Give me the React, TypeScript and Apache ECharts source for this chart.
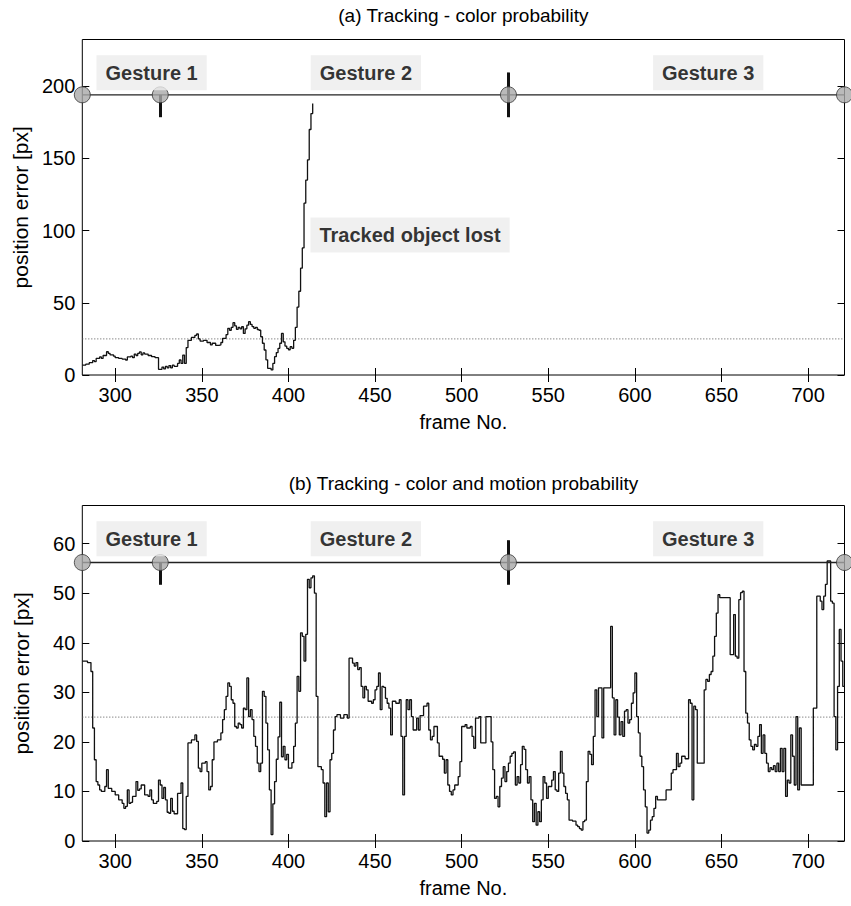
import React, { useEffect, useRef } from "react";
import * as echarts from "echarts";

// ---- axes / ticks ----
const xTicks = [300, 350, 400, 450, 500, 550, 600, 650, 700];
const yTicksA = [0, 50, 100, 150, 200];
const yTicksB = [0, 10, 20, 30, 40, 50, 60];
const frameMin = 281;
const frameMax = 721;
const yMaxA = 232.3;
const yMaxB = 67.7;

// ---- gestures ----
const gestureNames = ["Gesture 1", "Gesture 2", "Gesture 3"];
const gestureBounds = [281, 326, 527, 721];
const gestureLevelA = 194;
const gestureLevelB = 56.2;
const threshold = 25;

// ---- (a) colour probability: [frame, error px] (stairs) ----
const errA: [number, number][] = [
  [281, 6.9], [283, 7.5], [285, 8.5], [287, 10.0], [288, 9.3], [289, 11.5], [291, 12.5],
  [292, 11.5], [293, 13.5], [295, 16.1], [296, 15.0], [297, 14.0], [299, 13.0], [300, 12.0],
  [302, 11.5], [304, 11.0], [306, 10.4], [307, 12.5], [309, 13.0], [310, 12.0], [311, 14.5],
  [312, 13.5], [313, 15.0], [314, 16.0], [315, 14.0], [316, 15.3], [317, 14.5], [319, 13.5],
  [321, 12.7], [323, 12.0], [325, 3.9], [327, 5.5], [328, 4.2], [329, 6.0], [330, 5.0],
  [331, 6.5], [332, 5.0], [333, 6.8], [334, 6.0], [336, 8.0], [337, 10.4], [338, 8.0],
  [339, 13.8], [340, 8.0], [341, 19.0], [342, 24.0], [344, 26.0], [346, 27.5], [347, 28.4],
  [348, 25.0], [349, 23.5], [351, 24.0], [353, 22.5], [355, 20.8], [356, 22.0], [358, 20.5],
  [360, 20.8], [361, 22.5], [362, 25.4], [364, 28.0], [365, 32.3], [366, 31.0], [367, 33.0],
  [368, 36.2], [369, 34.0], [370, 31.6], [371, 33.0], [372, 32.0], [373, 33.4], [374, 28.8],
  [375, 32.0], [376, 34.5], [377, 36.9], [378, 35.0], [379, 33.5], [380, 32.3], [381, 33.0],
  [382, 31.5], [383, 31.0], [384, 26.5], [385, 22.0], [386, 17.3], [387, 10.5], [388, 4.6],
  [390, 3.5], [391, 8.0], [392, 12.7], [393, 15.5], [394, 18.5], [395, 22.0], [396, 28.8],
  [397, 23.0], [398, 20.0], [399, 18.5], [400, 17.5], [401, 19.6], [402, 18.5], [403, 24.0],
  [404, 33.0], [405, 47.0], [406, 58.0], [407, 74.0], [408, 88.0], [409, 119.0], [410, 135.0],
  [411, 149.0], [412, 170.0], [413, 181.0], [414, 188.0],
];

// ---- (b) colour and motion probability: [frame, error px] (stairs) ----
const errB: [number, number][] = [
  [281, 36.3], [284, 36.0], [286, 34.2], [287, 22.8], [288, 16.4], [289, 12.0], [290, 11.3],
  [291, 10.3], [292, 10.0], [294, 11.0], [295, 14.4], [296, 10.6], [298, 10.0], [300, 9.3],
  [302, 8.3], [304, 7.6], [305, 6.6], [306, 7.0], [307, 10.3], [308, 7.6], [309, 7.8],
  [310, 9.0], [312, 12.0], [313, 10.2], [314, 10.5], [315, 11.3], [317, 9.3], [319, 9.0],
  [320, 10.3], [321, 8.3], [322, 7.6], [324, 8.0], [325, 12.3], [326, 11.3], [327, 8.6],
  [328, 10.8], [329, 8.3], [330, 5.8], [331, 5.6], [332, 8.6], [333, 6.0], [334, 5.5],
  [336, 9.6], [338, 11.7], [339, 2.5], [340, 2.3], [341, 9.0], [342, 19.8], [344, 20.4],
  [346, 21.4], [347, 20.1], [348, 14.7], [349, 14.0], [350, 15.7], [352, 16.0], [353, 14.0],
  [354, 10.3], [355, 11.0], [356, 16.4], [357, 20.0], [359, 20.4], [361, 21.8], [362, 24.5],
  [363, 26.5], [364, 29.2], [365, 31.9], [366, 31.2], [367, 28.5], [368, 27.8], [369, 23.1],
  [370, 22.8], [371, 23.8], [372, 23.5], [373, 22.8], [374, 26.8], [375, 26.5], [376, 32.9],
  [377, 25.1], [378, 26.5], [379, 24.5], [380, 21.1], [381, 19.1], [382, 15.7], [383, 14.0],
  [384, 15.7], [385, 30.2], [386, 29.2], [387, 23.8], [388, 18.4], [389, 10.3], [390, 1.3],
  [391, 7.5], [392, 12.0], [393, 16.5], [394, 21.0], [395, 28.0], [396, 17.0], [397, 19.1],
  [398, 16.4], [399, 17.5], [400, 14.7], [402, 15.8], [403, 19.1], [404, 23.8], [405, 33.2],
  [406, 30.2], [407, 42.0], [408, 41.3], [409, 36.3], [410, 41.7], [411, 52.8], [412, 51.1],
  [413, 53.1], [414, 53.5], [415, 50.0], [416, 29.2], [417, 15.0], [419, 14.4], [420, 11.7],
  [421, 4.9], [422, 11.7], [423, 5.9], [424, 16.4], [425, 17.7], [426, 22.4], [427, 25.1],
  [428, 25.5], [430, 24.8], [432, 25.5], [434, 24.8], [435, 36.9], [437, 35.9], [438, 35.3],
  [439, 36.0], [440, 34.6], [441, 35.0], [442, 31.2], [443, 28.9], [444, 31.2], [445, 30.5],
  [446, 28.2], [448, 27.8], [449, 28.5], [450, 30.5], [451, 31.2], [452, 33.9], [453, 26.5],
  [454, 31.2], [455, 31.0], [456, 28.8], [457, 27.8], [458, 26.8], [459, 21.4], [460, 28.2],
  [462, 27.8], [464, 28.5], [465, 21.1], [466, 9.3], [467, 21.1], [468, 28.5], [469, 26.5],
  [470, 28.5], [471, 25.1], [472, 22.4], [474, 24.8], [475, 22.4], [476, 25.3], [478, 27.2],
  [480, 27.8], [481, 22.4], [482, 20.4], [483, 21.1], [484, 23.1], [486, 19.8], [487, 17.1],
  [489, 16.5], [490, 13.7], [491, 16.4], [492, 11.3], [493, 10.0], [494, 9.3], [495, 10.3],
  [496, 11.3], [498, 13.0], [499, 16.0], [500, 23.1], [502, 23.5], [503, 22.8], [505, 23.1],
  [506, 21.1], [507, 18.7], [508, 24.8], [510, 25.1], [511, 19.8], [514, 25.1], [517, 20.0],
  [518, 14.4], [519, 8.6], [520, 9.0], [521, 6.9], [522, 11.0], [523, 12.7], [524, 15.0],
  [525, 12.0], [526, 14.0], [527, 15.7], [528, 17.1], [529, 17.7], [530, 18.0], [531, 11.3],
  [532, 13.0], [533, 11.7], [534, 15.4], [535, 19.1], [536, 18.5], [537, 14.4], [538, 11.7],
  [539, 13.0], [540, 8.3], [541, 3.9], [542, 7.6], [543, 3.2], [544, 5.9], [545, 3.9],
  [546, 8.3], [547, 13.0], [548, 11.7], [549, 8.6], [550, 11.0], [552, 12.3], [553, 14.0],
  [554, 10.3], [555, 10.0], [556, 13.7], [557, 18.1], [558, 13.7], [559, 11.0], [560, 9.6],
  [561, 8.3], [562, 4.2], [564, 4.0], [566, 3.2], [567, 2.9], [568, 2.5], [569, 2.2],
  [570, 3.9], [571, 4.2], [572, 12.0], [573, 18.1], [574, 17.5], [575, 15.4], [576, 21.1],
  [577, 30.5], [578, 25.1], [579, 30.9], [581, 20.8], [582, 30.9], [586, 43.3], [587, 28.9],
  [588, 21.4], [589, 28.5], [590, 25.0], [591, 21.4], [592, 24.1], [593, 21.1], [594, 26.2],
  [595, 26.5], [596, 23.8], [597, 24.5], [598, 27.8], [599, 29.9], [600, 33.9], [601, 25.1],
  [602, 21.8], [603, 17.1], [604, 15.0], [605, 10.3], [606, 6.9], [607, 1.6], [608, 2.2],
  [609, 4.2], [610, 4.9], [611, 6.6], [612, 9.0], [613, 8.3], [618, 10.3], [621, 13.7],
  [622, 14.4], [624, 17.7], [625, 15.0], [626, 15.7], [627, 17.1], [629, 16.6], [631, 28.5],
  [632, 27.8], [633, 8.3], [634, 27.2], [635, 26.5], [636, 15.7], [640, 30.5], [641, 32.6],
  [642, 32.2], [643, 33.6], [644, 34.2], [645, 37.3], [646, 41.3], [647, 46.0], [648, 49.7],
  [649, 49.1], [655, 37.6], [657, 45.7], [658, 37.3], [659, 36.9], [660, 48.7], [661, 50.1],
  [662, 50.4], [663, 34.2], [664, 25.8], [665, 23.8], [666, 20.4], [667, 19.1], [668, 18.4],
  [669, 19.5], [670, 19.1], [671, 21.1], [672, 23.5], [673, 17.7], [674, 21.4], [675, 17.7],
  [676, 15.7], [677, 14.0], [678, 14.8], [679, 14.4], [680, 15.2], [681, 14.0], [682, 15.7],
  [683, 14.0], [684, 18.7], [685, 14.0], [686, 18.7], [687, 9.0], [688, 12.3], [689, 11.7],
  [690, 21.4], [691, 17.1], [692, 11.3], [693, 25.1], [694, 10.3], [695, 22.8], [696, 11.3],
  [703, 26.8], [705, 49.4], [707, 48.4], [708, 46.7], [709, 49.4], [710, 51.8], [711, 56.5],
  [713, 48.4], [714, 48.0], [715, 25.1], [716, 18.4], [717, 31.2], [718, 42.7], [719, 36.3],
  [720, 31.2], [721, 31.2],
];

// ---- annotation anchors (data coordinates) ----
const gestureLabelFrames = [321, 444.7, 642.3];
const gestureLabelLevelA = 209.3;
const gestureLabelLevelB = 61.0;
const lostLabel = { text: "Tracked object lost", frame: 470.2, value: 96.9 };

const FONT = "'Liberation Sans', Arial, Helvetica, sans-serif";
const PLOT_LEFT = 82.3;
const PLOT_W = 762.2;
const PLOT_H = 335.5;
const TOPS = [39.5, 505.5];

function buildOption() {
  const grid = TOPS.map((t) => ({
    left: PLOT_LEFT,
    top: t,
    width: PLOT_W,
    height: PLOT_H,
    show: true,
    borderColor: "#000",
    borderWidth: 1,
    backgroundColor: "transparent",
    containLabel: false,
  }));

  const tickStyle = { inside: true, length: 7, lineStyle: { color: "#000", width: 1 } };
  const labelStyle = { fontSize: 20, color: "#000", fontFamily: FONT };

  const xAxis: any[] = [];
  const yAxis: any[] = [];
  [0, 1].forEach((g) => {
    xAxis.push({
      gridIndex: g,
      type: "value",
      min: frameMin,
      max: frameMax,
      position: "bottom",
      axisLine: { show: false },
      axisTick: { ...tickStyle, customValues: xTicks },
      axisLabel: { ...labelStyle, customValues: xTicks, margin: 10 },
      splitLine: { show: false },
      name: "frame No.",
      nameLocation: "middle",
      nameGap: 37,
      nameTextStyle: { fontSize: 20, color: "#000", fontFamily: FONT },
    });
    xAxis.push({
      gridIndex: g,
      type: "value",
      min: frameMin,
      max: frameMax,
      position: "top",
      axisLine: { show: false },
      axisTick: { ...tickStyle, customValues: xTicks },
      axisLabel: { show: false },
      splitLine: { show: false },
    });
    const yt = g === 0 ? yTicksA : yTicksB;
    const ym = g === 0 ? yMaxA : yMaxB;
    yAxis.push({
      gridIndex: g,
      type: "value",
      min: 0,
      max: ym,
      position: "left",
      axisLine: { show: false },
      axisTick: { ...tickStyle, customValues: yt },
      axisLabel: { ...labelStyle, customValues: yt, margin: 7 },
      splitLine: { show: false },
      name: "position error [px]",
      nameLocation: "middle",
      nameGap: 50,
      nameTextStyle: { fontSize: 21, color: "#000", fontFamily: FONT },
    });
    yAxis.push({
      gridIndex: g,
      type: "value",
      min: 0,
      max: ym,
      position: "right",
      axisLine: { show: false },
      axisTick: { ...tickStyle, customValues: yt },
      axisLabel: { show: false },
      splitLine: { show: false },
    });
  });

  const series: any[] = [];
  [0, 1].forEach((g) => {
    const xi = g * 2;
    const yi = g * 2;
    const level = g === 0 ? gestureLevelA : gestureLevelB;
    const tick = g === 0 ? 15.5 : 4.5;
    const labelLevel = g === 0 ? gestureLabelLevelA : gestureLabelLevelB;

    series.push({
      type: "line",
      xAxisIndex: xi,
      yAxisIndex: yi,
      data: [[frameMin, threshold], [frameMax, threshold]],
      symbol: "none",
      silent: true,
      lineStyle: { color: "#555", width: 1, type: [1, 2] },
      z: 2,
    });
    series.push({
      type: "line",
      xAxisIndex: xi,
      yAxisIndex: yi,
      data: g === 0 ? errA : errB,
      step: "end",
      symbol: "none",
      silent: true,
      lineStyle: { color: "#111", width: 1.3 },
      z: 3,
    });
    series.push({
      type: "line",
      xAxisIndex: xi,
      yAxisIndex: yi,
      data: [[frameMin, level], [frameMax, level]],
      symbol: "none",
      silent: true,
      clip: false,
      lineStyle: { color: "#222", width: 1.3 },
      z: 4,
      markLine: {
        silent: true,
        symbol: "none",
        label: { show: false },
        lineStyle: { color: "#111", width: 3, type: "solid" },
        data: [
          [{ coord: [gestureBounds[1], level] }, { coord: [gestureBounds[1], level - tick] }],
          [{ coord: [gestureBounds[2], level + tick] }, { coord: [gestureBounds[2], level - tick] }],
        ],
      },
    });
    series.push({
      type: "scatter",
      xAxisIndex: xi,
      yAxisIndex: yi,
      data: gestureBounds.map((f) => [f, level]),
      symbol: "circle",
      symbolSize: 16,
      clip: false,
      silent: true,
      itemStyle: { color: "#a9a9a9", borderColor: "#333", borderWidth: 1 },
      z: 6,
    });
    const labels: any[] = gestureNames.map((n, i) => ({
      value: [gestureLabelFrames[i], labelLevel],
      name: n,
    }));
    if (g === 0) labels.push({ value: [lostLabel.frame, lostLabel.value], name: lostLabel.text });
    series.push({
      type: "scatter",
      xAxisIndex: xi,
      yAxisIndex: yi,
      data: labels,
      symbol: "circle",
      symbolSize: 0,
      silent: true,
      clip: false,
      label: {
        show: true,
        position: "inside",
        formatter: "{b}",
        fontSize: 20,
        fontWeight: "bold",
        fontFamily: FONT,
        color: "#000",
        backgroundColor: "#ececec",
        padding: [8, 9, 7, 9],
      },
      z: 7,
    });
  });

  return {
    animation: false,
    backgroundColor: "#fff",
    grid,
    xAxis,
    yAxis,
    series,
    graphic: [
      {
        type: "text",
        x: PLOT_LEFT + PLOT_W / 2,
        y: 15,
        style: {
          text: "(a) Tracking - color probability",
          fontSize: 19,
          fontFamily: FONT,
          fill: "#000",
          textAlign: "center",
          textVerticalAlign: "middle",
          align: "center",
          verticalAlign: "middle",
        },
      },
      {
        type: "text",
        x: PLOT_LEFT + PLOT_W / 2,
        y: 483,
        style: {
          text: "(b) Tracking - color and motion probability",
          fontSize: 19,
          fontFamily: FONT,
          fill: "#000",
          textAlign: "center",
          textVerticalAlign: "middle",
          align: "center",
          verticalAlign: "middle",
        },
      },
    ],
  };
}

export default function App() {
  const ref = useRef<HTMLDivElement>(null);
  useEffect(() => {
    if (!ref.current) return;
    const chart = echarts.init(ref.current, undefined, { renderer: "svg" });
    chart.setOption(buildOption() as any);
    return () => chart.dispose();
  }, []);
  return (
    <div
      ref={ref}
      style={{ position: "absolute", left: 0, top: 0, width: 851, height: 906, background: "#fff" }}
    />
  );
}
